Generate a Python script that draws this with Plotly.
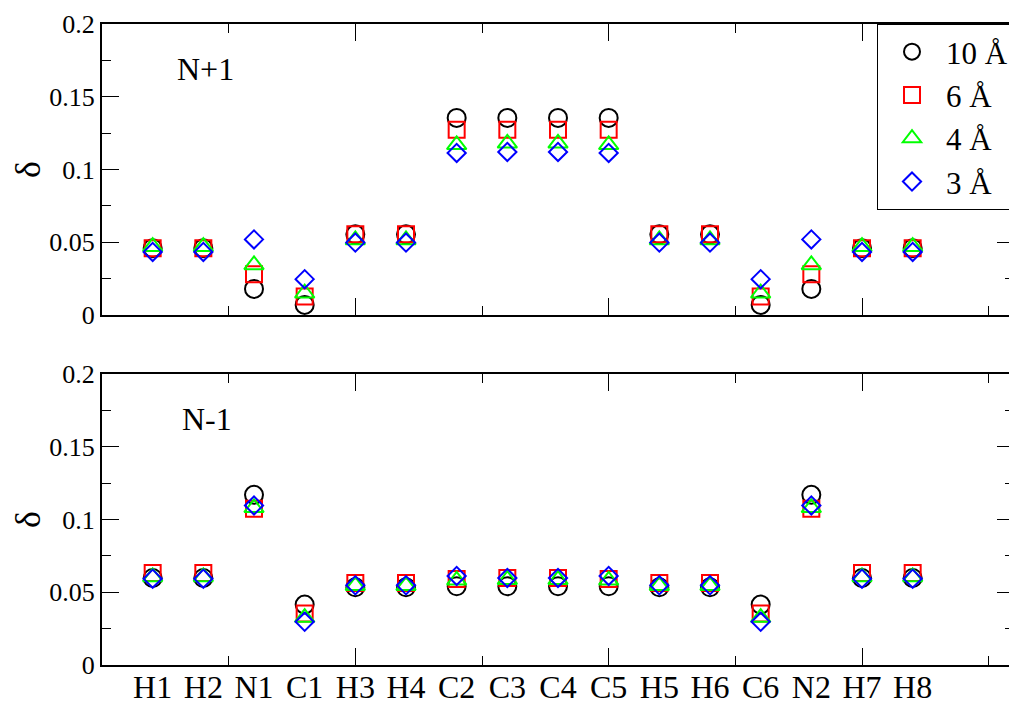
import plotly.graph_objects as go

atoms = ["H1", "H2", "N1", "C1", "H3", "H4", "C2", "C3", "C4", "C5",
         "H5", "H6", "C6", "N2", "H7", "H8"]
x_pos = list(range(1, len(atoms) + 1))

series_names = ["10 Å", "6 Å", "4 Å", "3 Å"]

# N+1 panel
np1_10 = [0.046, 0.046, 0.018, 0.007, 0.0555, 0.0555, 0.1355, 0.1355, 0.1355, 0.1355,
          0.0555, 0.0555, 0.007, 0.018, 0.046, 0.046]
np1_6 = [0.046, 0.046, 0.028, 0.0128, 0.0555, 0.0555, 0.1274, 0.1274, 0.1274, 0.1274,
         0.0555, 0.0555, 0.0128, 0.028, 0.046, 0.046]
np1_4 = [0.047, 0.047, 0.0345, 0.015, 0.0516, 0.0516, 0.117, 0.118, 0.118, 0.117,
         0.0516, 0.0516, 0.015, 0.0345, 0.047, 0.047]
np1_3 = [0.0434, 0.0434, 0.052, 0.0247, 0.0498, 0.0498, 0.1114, 0.1121, 0.1121, 0.1114,
         0.0498, 0.0498, 0.0247, 0.052, 0.0434, 0.0434]

# N-1 panel
nm1_10 = [0.0598, 0.0598, 0.1169, 0.0415, 0.0534, 0.0534, 0.0541, 0.0541, 0.0541, 0.0541,
          0.0534, 0.0534, 0.0415, 0.1169, 0.0598, 0.0598]
nm1_6 = [0.0632, 0.0632, 0.1073, 0.0353, 0.0564, 0.0564, 0.0591, 0.0598, 0.0598, 0.0591,
         0.0564, 0.0564, 0.0353, 0.1073, 0.0632, 0.0632]
nm1_4 = [0.0605, 0.0605, 0.108, 0.0326, 0.0545, 0.0545, 0.0582, 0.0586, 0.0586, 0.0582,
         0.0545, 0.0545, 0.0326, 0.108, 0.0605, 0.0605]
nm1_3 = [0.0593, 0.0593, 0.1096, 0.0297, 0.0548, 0.0548, 0.0612, 0.0598, 0.0598, 0.0612,
         0.0548, 0.0548, 0.0297, 0.1096, 0.0593, 0.0593]

y_tickvals = [0, 0.05, 0.1, 0.15, 0.2]
y_ticktext = ["0", "0.05", "0.1", "0.15", "0.2"]
panel_labels = ["N+1", "N-1"]

colors = ["#000000", "#ff0000", "#00ff00", "#0000ff"]
symbols = ["circle-open", "square-open", "triangle-up-open", "diamond-open"]
sizes = [18, 16, 17, 14]

FONT = "Liberation Serif"

fig = go.Figure()
panels = [(np1_10, np1_6, np1_4, np1_3), (nm1_10, nm1_6, nm1_4, nm1_3)]
for p, data in enumerate(panels):
    xa = "x" if p == 0 else "x2"
    ya = "y" if p == 0 else "y2"
    for i, vals in enumerate(data):
        fig.add_trace(go.Scatter(
            x=x_pos, y=vals, mode="markers", name=series_names[i],
            showlegend=(p == 0), xaxis=xa, yaxis=ya,
            marker=dict(symbol=symbols[i], size=sizes[i], color=colors[i],
                        line=dict(width=2, color=colors[i])),
        ))

# invisible carrier so the atom-label axis is drawn
fig.add_trace(go.Scatter(x=x_pos, y=nm1_10, mode="markers", xaxis="x3", yaxis="y2",
                         showlegend=False, hoverinfo="skip",
                         marker=dict(opacity=0, size=1)))

# page body has an 8 px margin in the browser
OFF = 8
W, H = 1017 - OFF, 706 - OFF
ml, mr, mt, mb = 102 - OFF, 1, 24 - OFF, 39
ph = H - mt - mb
panel_h = 292
top_dom = [(ph - panel_h) / ph, 1]
bot_dom = [0, panel_h / ph]

tick_axis = dict(range=[0, 18], showline=True, linewidth=2, linecolor="black",
                 mirror="ticks", ticks="inside", ticklen=17, tickwidth=1,
                 tickcolor="black", tick0=0, dtick=5, showticklabels=False,
                 showgrid=False, zeroline=False,
                 minor=dict(ticks="inside", ticklen=9, tickwidth=1, tickcolor="black",
                            dtick=2.5, showgrid=False))
y_axis = dict(range=[0, 0.2], showline=True, linewidth=2, linecolor="black",
              mirror="ticks", ticks="inside", ticklen=17, tickwidth=1,
              tickcolor="black", tickmode="array", tickvals=y_tickvals,
              ticktext=y_ticktext, showgrid=False, zeroline=False,
              tickfont=dict(family=FONT, size=26, color="black"),
              title=dict(text="δ", font=dict(family=FONT, size=36, color="black"),
                         standoff=6),
              minor=dict(ticks="inside", ticklen=9, tickwidth=1, tickcolor="black",
                         dtick=0.025, showgrid=False))

fig.update_layout(
    width=W, height=H,
    margin=dict(l=ml, r=mr, t=mt, b=mb),
    paper_bgcolor="white", plot_bgcolor="white",
    font=dict(family=FONT, color="black"),
    xaxis=dict(tick_axis, anchor="y"),
    yaxis=dict(y_axis, domain=top_dom, anchor="x"),
    xaxis2=dict(tick_axis, anchor="y2"),
    yaxis2=dict(y_axis, domain=bot_dom, anchor="x2"),
    xaxis3=dict(range=[0, 18], overlaying="x2", anchor="y2", side="bottom",
                tickmode="array", tickvals=x_pos, ticktext=atoms, ticks="",
                showline=False, showgrid=False, zeroline=False,
                tickfont=dict(family=FONT, size=32, color="black")),
    legend=dict(x=1, xanchor="right", y=1, yanchor="top",
                bordercolor="black", borderwidth=1, bgcolor="white",
                font=dict(family=FONT, size=31, color="black"),
                itemwidth=58, tracegroupgap=0),
    annotations=[
        dict(text=panel_labels[0], x=2.05, y=0.169, xref="x", yref="y",
             showarrow=False, font=dict(family=FONT, size=32, color="black")),
        dict(text=panel_labels[1], x=2.08, y=0.169, xref="x2", yref="y2",
             showarrow=False, font=dict(family=FONT, size=32, color="black")),
    ],
)

fig.write_html("out.html")
